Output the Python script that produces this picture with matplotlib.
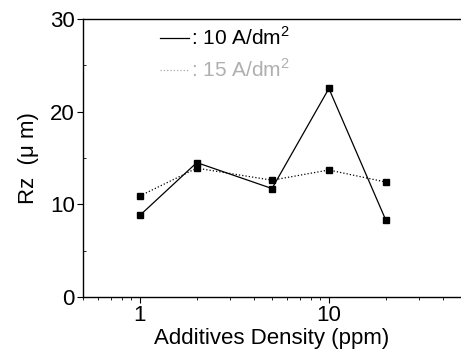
import matplotlib
matplotlib.use('Agg')
import matplotlib.pyplot as plt
from matplotlib.lines import Line2D
from matplotlib.ticker import LogLocator, NullFormatter, MultipleLocator

plt.rcParams['font.family'] = ['Liberation Sans', 'DejaVu Sans']
plt.rcParams['mathtext.fontset'] = 'custom'
plt.rcParams['mathtext.rm'] = 'Liberation Sans'

density = [1, 2, 5, 10, 20]
rz_10 = [8.8, 14.5, 11.7, 22.5, 8.3]
rz_15 = [10.9, 13.9, 12.6, 13.7, 12.4]
labels = [': 10 A/dm$^\\mathrm{2}$', ': 15 A/dm$^\\mathrm{2}$']

fig = plt.figure(figsize=(4.61, 3.59), dpi=100)
ax = fig.add_axes([0.18, 0.173, 0.82, 0.774])

ax.plot(density, rz_10, '-', color='black', lw=0.9, marker='s', ms=4)
ax.plot(density, rz_15, ':', color='black', lw=0.9, marker='s', ms=4)

ax.set_xscale('log')
ax.set_xlim(0.5, 50)
ax.set_ylim(0, 30)
ax.yaxis.set_major_locator(MultipleLocator(10))
ax.yaxis.set_minor_locator(MultipleLocator(5))
ax.xaxis.set_minor_locator(LogLocator(base=10, subs=range(2, 10)))
ax.xaxis.set_minor_formatter(NullFormatter())
ax.set_xticks([1, 10])
ax.set_xticklabels(['1', '10'])

ax.spines['right'].set_visible(False)
for s in ax.spines.values():
    s.set_linewidth(1.0)
ax.tick_params(axis='both', which='major', direction='out', length=4, labelsize=16, pad=2)
ax.tick_params(axis='x', which='minor', direction='out', length=2)
ax.tick_params(axis='y', which='minor', direction='in', length=2)

ax.set_xlabel('Additives Density (ppm)', fontsize=16, labelpad=1)
ax.set_ylabel('Rz  (\u03bc m)', fontsize=16, labelpad=8)

handles = [Line2D([], [], color='black', lw=0.9, ls='-'),
           Line2D([], [], color='#aaaaaa', lw=0.9, ls=':')]
leg = ax.legend(handles, labels, loc='upper left', bbox_to_anchor=(0.165, 1.025),
                frameon=False, fontsize=15, handlelength=1.4, handletextpad=0.1,
                labelspacing=0.45, borderaxespad=0.3)
leg.get_texts()[1].set_color('#b0b0b0')

fig.savefig('out.png', dpi=100)
